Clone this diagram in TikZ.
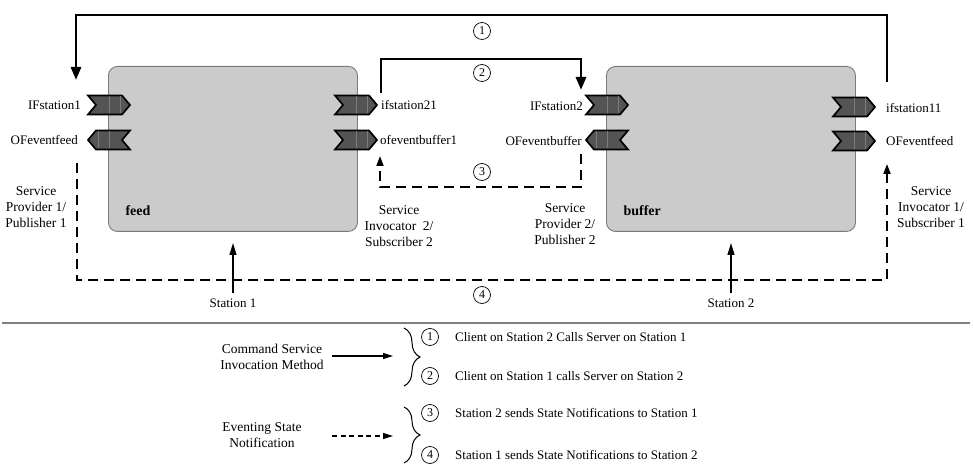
\documentclass[tikz,border=0pt]{standalone}
\usepackage{fontspec}
\setmainfont{Liberation Serif}
\usetikzlibrary{arrows.meta,decorations.pathreplacing,calc}
\definecolor{boxfill}{HTML}{CBCBCB}
\definecolor{boxborder}{HTML}{7A7A7A}
\definecolor{portfill}{HTML}{545454}
\definecolor{portline}{HTML}{7C7C7C}
\newcommand\myportR[3]{%
  \node[portnode] (#1) at (#2,#3) {};
  \draw[portshape] ($(#1.center)+(-21,-9.5)$) -- ++(34,0) -- ++(8,9.5) -- ++(-8,9.5) -- ++(-34,0) -- ++(8,-9.5) -- cycle;
  \draw[portline, line width=0.7pt] ($(#1.center)+(0,-8.5)$) -- ++(0,17);
  \draw[portline, line width=0.5pt] ($(#1.center)+(11,-8.5)$) -- ++(0,17);}
\newcommand\myportL[3]{%
  \node[portnode] (#1) at (#2,#3) {};
  \draw[portshape] ($(#1.center)+(21,-9.5)$) -- ++(-34,0) -- ++(-8,9.5) -- ++(8,9.5) -- ++(34,0) -- ++(-8,-9.5) -- cycle;
  \draw[portline, line width=0.7pt] ($(#1.center)+(0,-8.5)$) -- ++(0,17);
  \draw[portline, line width=0.5pt] ($(#1.center)+(-11,-8.5)$) -- ++(0,17);}
\begin{document}
\begin{tikzpicture}[x=1pt,y=-1pt, font=\fontsize{13}{15.5}\selectfont,
  station/.style={draw=boxborder, fill=boxfill, rounded corners=9pt, line width=0.9pt, minimum width=249pt, minimum height=165pt, anchor=north west},
  portnode/.style={minimum width=42pt, minimum height=19pt, inner sep=0pt},
  portshape/.style={fill=portfill, draw=black, line width=1.7pt, line join=miter},
  lbl/.style={inner sep=1pt},
  srv/.style={align=center, inner sep=0pt, font=\fontsize{13.5}{16}\selectfont},
  num/.style={circle, draw, line width=0.7pt, minimum size=17pt, inner sep=0pt, font=\fontsize{12}{12}\selectfont},
  cmd/.style={line width=2.8pt, -{Triangle[length=13pt,width=10pt]}},
  evt/.style={line width=1.8pt, dash pattern=on 10pt off 6pt, -{Triangle[length=10pt,width=7pt]}},
  stat/.style={line width=1.3pt, -{Triangle[length=12pt,width=7pt]}},
  legsolid/.style={line width=1.2pt, -{Triangle[length=10pt,width=6pt]}},
  legdash/.style={line width=1.2pt, dash pattern=on 5pt off 3.5pt, -{Triangle[length=10pt,width=6pt]}},
  brc/.style={decorate, decoration={brace, amplitude=16pt, aspect=0.5}, line width=1pt}]
\useasboundingbox (0,0) rectangle (974,470);

% stations
\node[station] (feed) at (108,66) {};
\node[station] (buffer) at (606,66) {};
\node[font=\fontsize{14}{16}\bfseries\selectfont, anchor=west] (feedlbl) at (122,211) {feed};
\node[font=\fontsize{14}{16}\bfseries\selectfont, anchor=west] (bufferlbl) at (620,211) {buffer};

% ports
\myportR{p1}{109}{105}
\myportL{p2}{109}{140}
\myportR{p3}{356}{105}
\myportR{p4}{356}{140}
\myportR{p5}{607}{105}
\myportL{p6}{607}{140}
\myportR{p7}{854}{107}
\myportR{p8}{854}{141}

% port labels
\node[lbl, anchor=east] (l1) at (82,105) {IFstation1};
\node[lbl, anchor=east] (l2) at (79,140) {OFeventfeed};
\node[lbl, anchor=west] (l3) at (380,105) {ifstation21};
\node[lbl, anchor=west] (l4) at (379,140) {ofeventbuffer1};
\node[lbl, anchor=east] (l5) at (584,106) {IFstation2};
\node[lbl, anchor=east] (l6) at (583,141) {OFeventbuffer};
\node[lbl, anchor=west] (l7) at (885,108) {ifstation11};
\node[lbl, anchor=west] (l8) at (885,141) {OFeventfeed};

% service labels
\node[srv] (sp1) at (36,207) {Service\\Provider 1/\\Publisher 1};
\node[srv] (si2) at (399,226) {Service\\Invocator~~2/\\Subscriber 2};
\node[srv] (sp2) at (565,224) {Service\\Provider 2/\\Publisher 2};
\node[srv] (si1) at (931,207) {Service\\Invocator 1/\\Subscriber 1};

% numbers
\node[num] (n1) at (482,31) {1};
\node[num] (n2) at (482,73) {2};
\node[num] (n3) at (482,172) {3};
\node[num] (n4) at (482,295) {4};

% connector 1
\coordinate (a1s) at (887,82);
\coordinate (a1e) at (76,80);
\coordinate (a1t) at (482,15);
\draw[cmd] (a1s) -- (a1s |- a1t) -| (a1e);
% connector 2
\coordinate (a2s) at (381,93);
\coordinate (a2e) at (581,90);
\coordinate (a2t) at (482,59);
\draw[cmd] (a2s) -- (a2s |- a2t) -| (a2e);
% connector 3
\coordinate (a3s) at (581,154);
\coordinate (a3e) at (380,156);
\coordinate (a3b) at (482,187);
\draw[evt] (a3s) -- (a3s |- a3b) -| (a3e);
% connector 4
\coordinate (a4s) at (77,163);
\coordinate (a4e) at (887,164);
\coordinate (a4b) at (482,280);
\draw[evt] (a4s) -- (a4s |- a4b) -| (a4e);

% stations labels
\node[lbl] (st1) at (233,303) {Station 1};
\node[lbl] (st2) at (731,303) {Station 2};
\coordinate (st1t) at (233,243);
\coordinate (st2t) at (731,243);
\draw[stat] ($(st1.north)+(0,-4)$) -- (st1t);
\draw[stat] ($(st2.north)+(0,-4)$) -- (st2t);

% separator
\coordinate (sepL) at (2,323);
\coordinate (sepR) at (970,323);
\draw[gray, line width=1.4pt] (sepL) -- (sepR);

% legend
\node[srv] (cmdl) at (272,357) {Command Service\\Invocation Method};
\node[srv] (evtl) at (262,435) {Eventing State\\Notification};
\coordinate (la1) at (393,356);
\coordinate (la2) at (393,436);
\draw[legsolid] (332,356) -- (la1);
\draw[legdash] (332,436) -- (la2);
\draw[brc] (404,328) -- (404,386);
\draw[brc] (404,407) -- (404,463);

\node[num] (ln1) at (430,337) {1};
\node[num] (ln2) at (430,376) {2};
\node[num] (ln3) at (430,413) {3};
\node[num] (ln4) at (430,455) {4};
\node[lbl, anchor=west] (t1) at (454,337) {Client on Station 2 Calls Server on Station 1};
\node[lbl, anchor=west] (t2) at (454,376) {Client on Station 1 calls Server on Station 2};
\node[lbl, anchor=west] (t3) at (454,413) {Station 2 sends State Notifications to Station 1};
\node[lbl, anchor=west] (t4) at (454,455) {Station 1 sends State Notifications to Station 2};
\end{tikzpicture}
\end{document}
